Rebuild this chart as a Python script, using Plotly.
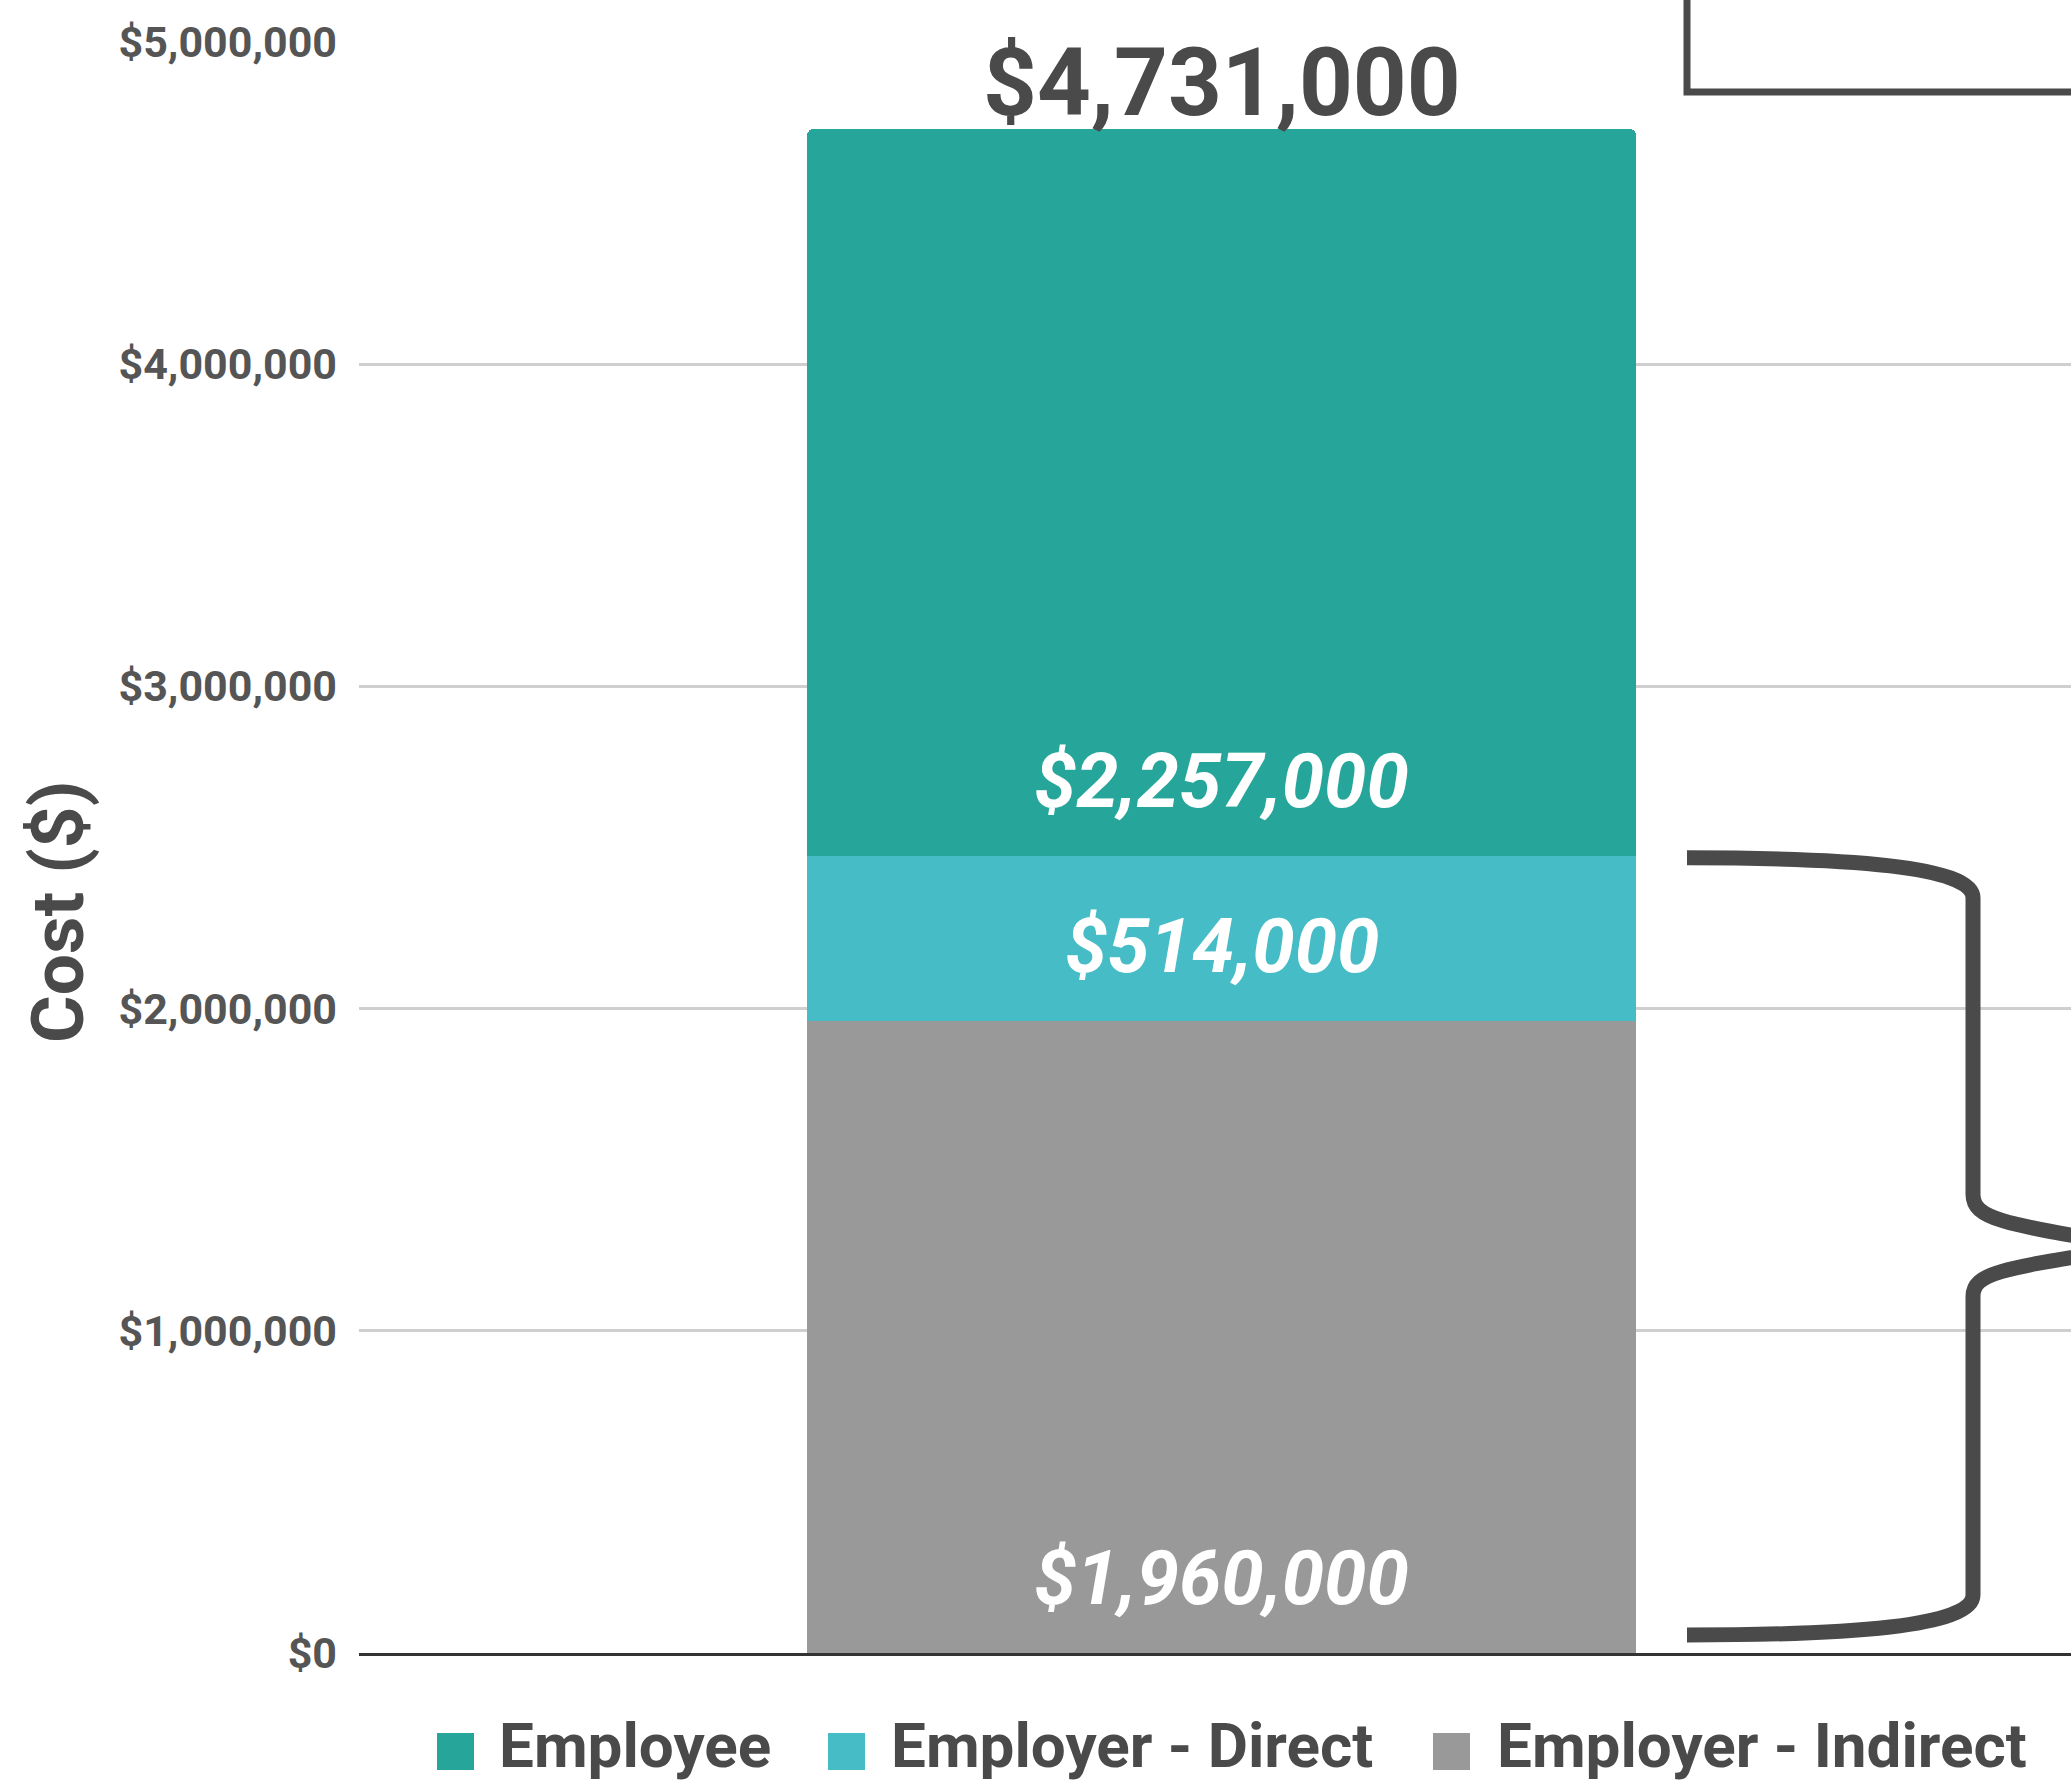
import plotly.graph_objects as go

# ---------------- data ----------------
categories = ["Total"]
series_names = ["Employer - Indirect", "Employer - Direct", "Employee"]
indirect_values = [1960000]
direct_values = [514000]
employee_values = [2257000]
series_colors = ["#999999", "#46BDC6", "#26A69A"]
y_tick_values = [0, 1000000, 2000000, 3000000, 4000000, 5000000]
y_axis_title = "Cost ($)"
legend_order = ["Employee", "Employer - Direct", "Employer - Indirect"]

# ---------------- geometry ----------------
W, H = 2071, 1787
ML, MR, MT, MB = 359, 0, 42, 134
PW, PH = W - ML - MR, H - MT - MB
YMAX = 5000000
FONT = "Roboto, 'Open Sans', sans-serif"
DARK = "#4a4a4a"


def xp(px):
    return (px - ML) / PW


def yp(py):
    return (H - MB - py) / PH


def ypx(v):
    return (H - MB) - v / YMAX * PH


fig = go.Figure()
series_values = [indirect_values, direct_values, employee_values]
for name, vals, col in zip(series_names, series_values, series_colors):
    fig.add_trace(go.Bar(
        x=categories, y=vals, name=name, marker_color=col,
        marker_line_width=0, hoverinfo="skip", showlegend=False,
    ))

# ---------------- value labels ----------------
label_font = dict(family=FONT, size=76, color="white", weight="bold", style="italic")
base = 0
for i, (vals, name) in enumerate(zip(series_values, series_names)):
    v = vals[0]
    txt = "${:,.0f}".format(v)
    if name == "Employer - Direct":
        fig.add_annotation(x=categories[0], y=base + v / 2, text=txt, showarrow=False,
                           font=label_font, yanchor="middle", xanchor="center", yshift=-7)
    else:
        fig.add_annotation(x=categories[0], y=base, text=txt, showarrow=False,
                           font=label_font, yanchor="middle", xanchor="center", yshift=75)
    base += v

total = base
fig.add_annotation(x=categories[0], y=total, text="${:,.0f}".format(total), showarrow=False,
                   font=dict(family=FONT, size=94, color=DARK, weight="bold"),
                   yanchor="middle", xanchor="center", yshift=46)

# ---------------- y axis title ----------------
fig.add_annotation(xref="paper", yref="paper", x=xp(58), y=yp(912), text=y_axis_title,
                   showarrow=False, textangle=-90, xanchor="center", yanchor="middle",
                   font=dict(family=FONT, size=73, color=DARK, weight="bold"))

# ---------------- manual legend ----------------
legend_colors = {n: c for n, c in zip(series_names, series_colors)}
sq_left = [437, 828, 1433]
txt_left = [497, 889, 1495]
for name, sl, tl in zip(legend_order, sq_left, txt_left):
    fig.add_shape(type="rect", xref="paper", yref="paper",
                  x0=xp(sl), x1=xp(sl + 37), y0=yp(1733), y1=yp(1770),
                  fillcolor=legend_colors[name], line=dict(width=0))
    fig.add_annotation(xref="paper", yref="paper", x=xp(tl), y=yp(1745), text=name,
                       showarrow=False, xanchor="left", yanchor="middle",
                       font=dict(family=FONT, size=62, color=DARK, weight="bold"))

# ---------------- bracket box (top right) ----------------
fig.add_shape(type="rect", xref="paper", yref="paper",
              x0=xp(1687), x1=xp(2300), y0=yp(92), y1=yp(-60),
              line=dict(color=DARK, width=7), fillcolor="rgba(0,0,0,0)")

# ---------------- curly brace spanning employer costs ----------------
top = ypx(indirect_values[0] + direct_values[0]) + 2
bot = ypx(0) - 18
mid = (top + bot) / 2
xa, xv, xt = 1687, 1973, 2127


def P(x, y):
    return "{:.5f},{:.5f}".format(xp(x), yp(y))


brace_path = (
    "M" + P(xa, top)
    + " C" + P(xa + 160, top) + " " + P(xv, top + 8) + " " + P(xv, top + 40)
    + " L" + P(xv, mid - 52)
    + " C" + P(xv, mid - 28) + " " + P(xv + 30, mid - 22) + " " + P(xt, mid - 2)
    + " M" + P(xt, mid + 2)
    + " C" + P(xv + 30, mid + 22) + " " + P(xv, mid + 26) + " " + P(xv, mid + 50)
    + " L" + P(xv, bot - 40)
    + " C" + P(xv, bot - 8) + " " + P(xa + 160, bot) + " " + P(xa, bot)
)
fig.add_shape(type="path", xref="paper", yref="paper", path=brace_path,
              line=dict(color=DARK, width=15), fillcolor="rgba(0,0,0,0)")

# ---------------- layout ----------------
fig.update_layout(
    width=W, height=H,
    margin=dict(l=ML, r=MR, t=MT, b=MB, pad=0),
    barmode="stack",
    bargap=0.5194,
    barcornerradius=7,
    plot_bgcolor="white", paper_bgcolor="white",
    showlegend=False,
    font=dict(family=FONT, color=DARK),
    xaxis=dict(range=[-0.5, 0.4924], showticklabels=False, ticks="",
               showgrid=False, zeroline=False, showline=True,
               linecolor="#333333", linewidth=3, fixedrange=True),
    yaxis=dict(range=[0, YMAX], tickvals=y_tick_values,
               tickformat="$,.0f", showgrid=True, gridcolor="#cfcfcf", gridwidth=3,
               zeroline=False, showline=False, ticks="", ticklabelstandoff=21,
               tickfont=dict(family=FONT, size=43, color="#555555", weight="bold"),
               fixedrange=True),
)

fig.write_html("out.html", config={"displayModeBar": False},
               post_script="document.body.style.margin='0';document.body.style.overflow='hidden';")
